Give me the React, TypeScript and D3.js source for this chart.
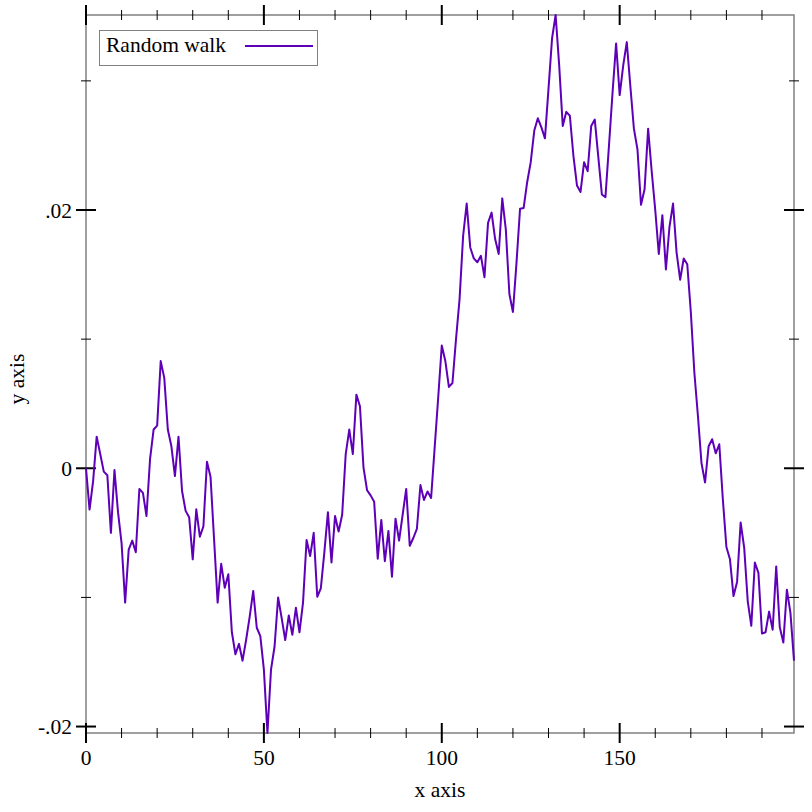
import * as d3 from "d3";

// random walk samples, one per step
const walk = [
  0.0, -0.0032, -0.001, 0.00245, 0.0011, -0.00026, -0.00054, -0.005, -0.00013, -0.0034,
  -0.0058, -0.0104, -0.0063, -0.0056, -0.0065, -0.0016, -0.0019, -0.0037, 0.0007, 0.003,
  0.0033, 0.0083, 0.007, 0.003, 0.0017, -0.0006, 0.00245, -0.00176, -0.0033, -0.0038,
  -0.00705, -0.00318, -0.0053, -0.0045, 0.0005, -0.00065, -0.0055, -0.0104, -0.0074, -0.00925,
  -0.0082, -0.0127, -0.0144, -0.0136, -0.0149, -0.0133, -0.0115, -0.0095, -0.01235, -0.013,
  -0.0156, -0.0205, -0.0156, -0.0138, -0.01, -0.0116, -0.0133, -0.0114, -0.0129, -0.0108,
  -0.0127, -0.0104, -0.00555, -0.0068, -0.005, -0.00995, -0.0093, -0.0065, -0.0034, -0.0073,
  -0.0037, -0.0049, -0.0036, 0.0011, 0.003, 0.0011, 0.0057, 0.0048, 0.00005, -0.0017,
  -0.0021, -0.0026, -0.007, -0.004, -0.0072, -0.00485, -0.0084, -0.0039, -0.0056, -0.0036,
  -0.0016, -0.006, -0.0054, -0.0047, -0.0013, -0.00245, -0.0018, -0.0023, 0.0016, 0.0055,
  0.0095, 0.0083, 0.0063, 0.0066, 0.01, 0.0131, 0.018, 0.0205, 0.0171, 0.01625,
  0.01595, 0.01645, 0.0148, 0.019, 0.0198, 0.01775, 0.0166, 0.0209, 0.0185, 0.0135,
  0.0121, 0.0159, 0.0201, 0.02015, 0.02215, 0.0237, 0.02615, 0.0271, 0.0264, 0.02555,
  0.0294, 0.0333, 0.0351, 0.0312, 0.0265, 0.0276, 0.0273, 0.0242, 0.0219, 0.0214,
  0.0237, 0.023, 0.0265, 0.027, 0.0241, 0.0212, 0.021, 0.025, 0.0291, 0.0329,
  0.0289, 0.0312, 0.033, 0.0296, 0.0263, 0.0247, 0.0204, 0.0216, 0.0263, 0.023,
  0.02, 0.0166, 0.0196, 0.0154, 0.0187, 0.0205, 0.0167, 0.0146, 0.01625, 0.0158,
  0.0121, 0.0074, 0.00405, 0.0004, -0.0011, 0.0017, 0.00225, 0.00116, 0.00186, -0.0024,
  -0.0061, -0.00705, -0.0099, -0.0088, -0.0042, -0.00615, -0.0103, -0.0122, -0.0073, -0.0081,
  -0.0128, -0.0127, -0.0111, -0.0125, -0.0076, -0.0123, -0.0135, -0.0094, -0.0112, -0.0149,
];

const xMajor = [0, 50, 100, 150];
const xMinor = [10, 20, 30, 40, 60, 70, 80, 90, 110, 120, 130, 140, 160, 170, 180, 190];
const yMajor = [-0.02, 0, 0.02];
const yMajorLabels = ["-.02", "0", ".02"];
const yMinor = [-0.01, 0.01, 0.03];

const legendLabel = "Random walk";
const lineColor = "#5e00b8";
const frameColor = "#808080";
const font = "'Liberation Serif', 'Times New Roman', serif";
const fs = 21.5;

export default function App() {
  const left = 86, right = 794, top = 15, bottom = 733;

  const x = d3.scaleLinear().domain([0, walk.length - 1]).range([left, right]);
  const y = d3.scaleLinear().domain(d3.extent(walk) as [number, number]).range([bottom, top]);

  const path = d3.line<number>().x((_, i) => x(i)).y((d) => y(d))(walk) ?? "";

  return (
    <svg width={812} height={812} style={{ position: "absolute", left: 0, top: 0, background: "#fff" }} fontFamily={font}>
      <rect x={left} y={top} width={right - left} height={bottom - top} fill="none" stroke={frameColor} strokeWidth={1.5} />

      {/* x ticks, bottom and top */}
      {xMinor.map((t) => (
        <g key={"xm" + t} stroke="#000" strokeWidth={1}>
          <line x1={x(t)} x2={x(t)} y1={bottom - 5} y2={bottom + 5} />
          <line x1={x(t)} x2={x(t)} y1={top - 5} y2={top + 5} />
        </g>
      ))}
      {xMajor.map((t) => (
        <g key={"xM" + t}>
          <line x1={x(t)} x2={x(t)} y1={bottom - 10} y2={bottom + 10} stroke="#000" strokeWidth={2} />
          <line x1={x(t)} x2={x(t)} y1={top - 10} y2={top + 10} stroke="#000" strokeWidth={2} />
          <text x={x(t)} y={765} textAnchor="middle" fontSize={fs}>{t}</text>
        </g>
      ))}

      {/* y ticks, left and right */}
      {yMinor.map((t) => (
        <g key={"ym" + t} stroke="#000" strokeWidth={1}>
          <line x1={left - 5} x2={left + 5} y1={y(t)} y2={y(t)} />
          <line x1={right - 5} x2={right + 5} y1={y(t)} y2={y(t)} />
        </g>
      ))}
      {yMajor.map((t, i) => (
        <g key={"yM" + t}>
          <line x1={left - 10} x2={left + 10} y1={y(t)} y2={y(t)} stroke="#000" strokeWidth={2} />
          <line x1={right - 10} x2={right + 10} y1={y(t)} y2={y(t)} stroke="#000" strokeWidth={2} />
          <text x={72} y={y(t)} dy="0.35em" textAnchor="end" fontSize={fs}>{yMajorLabels[i]}</text>
        </g>
      ))}

      <path d={path} fill="none" stroke={lineColor} strokeWidth={2} strokeLinejoin="round" />

      <text x={(left + right) / 2} y={797} textAnchor="middle" fontSize={fs}>x axis</text>
      <text transform={`translate(24, ${(top + bottom) / 2 + 5}) rotate(-90)`} textAnchor="middle" fontSize={fs}>y axis</text>

      {/* legend */}
      <rect x={99.5} y={30.5} width={218} height={35} fill="#fff" stroke={frameColor} strokeWidth={1} />
      <text x={106} y={52} fontSize={fs}>{legendLabel}</text>
      <line x1={245} x2={313} y1={46} y2={46} stroke={lineColor} strokeWidth={2} />
    </svg>
  );
}
